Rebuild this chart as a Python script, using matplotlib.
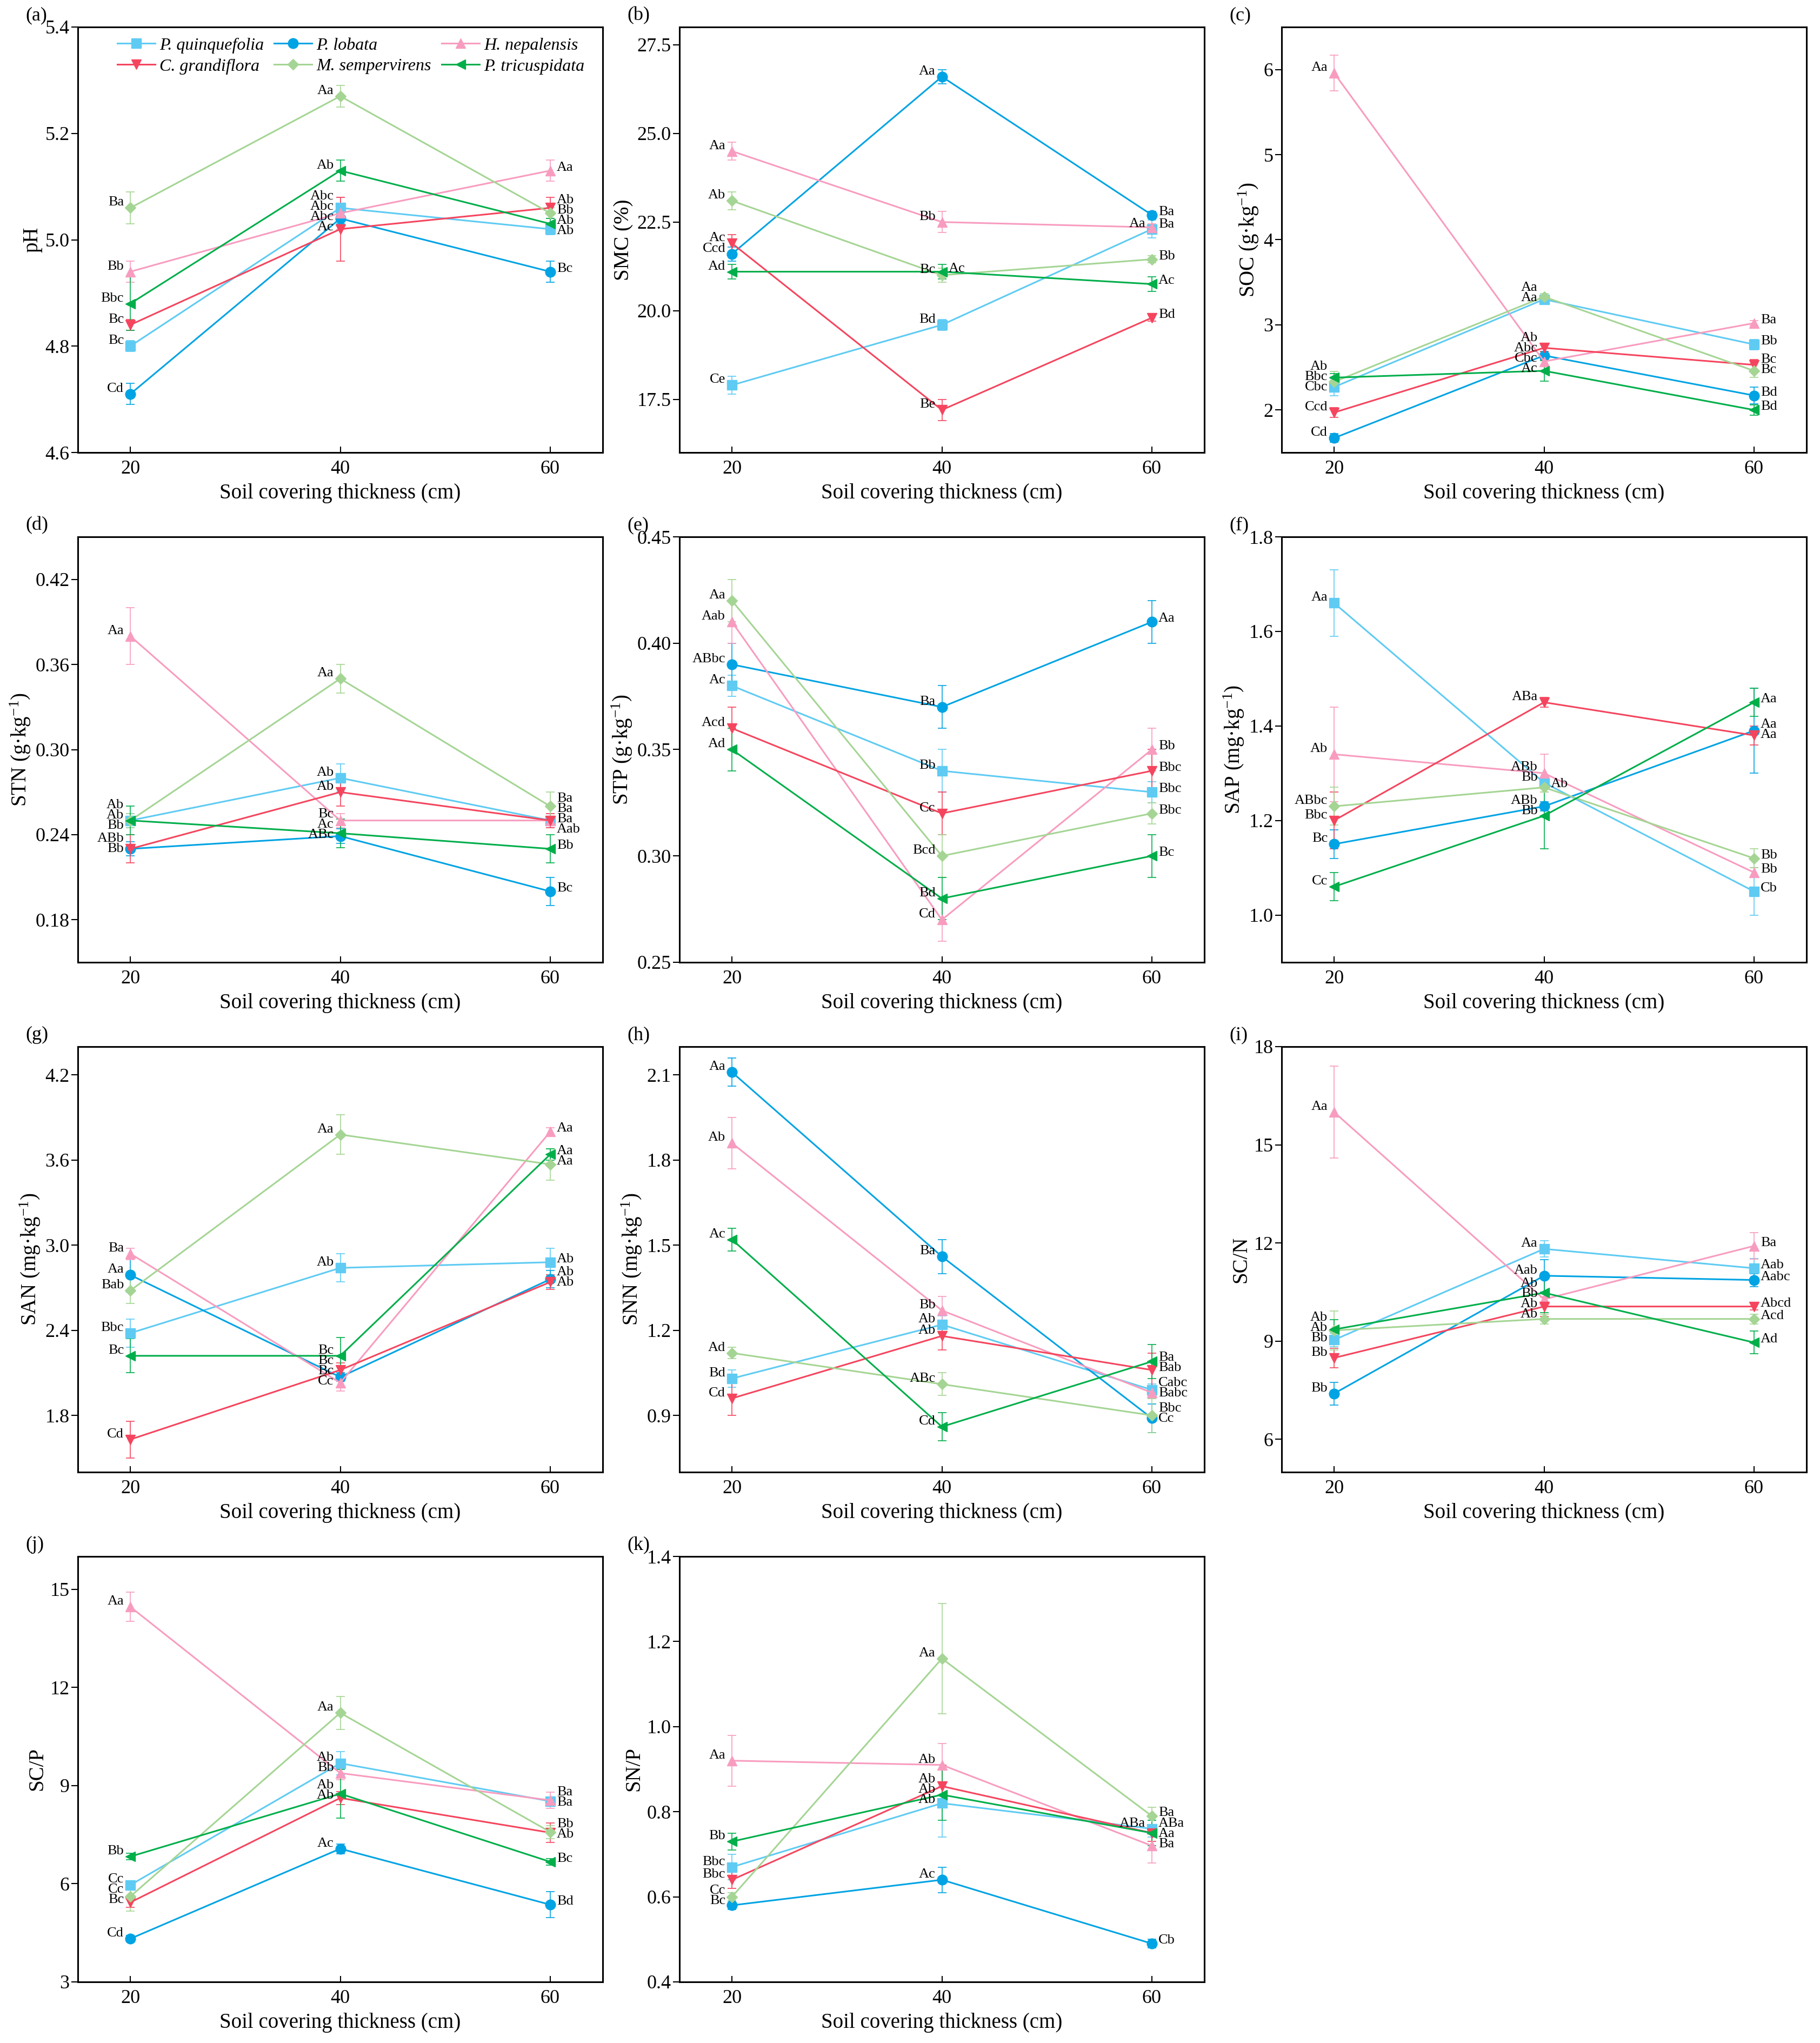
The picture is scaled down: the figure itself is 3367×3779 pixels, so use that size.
import numpy as np
import matplotlib
matplotlib.use('Agg')
import matplotlib.pyplot as plt
from matplotlib.ticker import FormatStrFormatter

plt.rcParams['font.family'] = ['Liberation Serif', 'DejaVu Serif']
plt.rcParams['mathtext.fontset'] = 'custom'
plt.rcParams['mathtext.rm'] = 'Liberation Serif'
plt.rcParams['mathtext.it'] = 'Liberation Serif:italic'

thickness = [20, 40, 60]
species = ['P. quinquefolia', 'P. lobata', 'H. nepalensis',
           'C. grandiflora', 'M. sempervirens', 'P. tricuspidata']
colors = ['#5FCBF3', '#00A3E3', '#F89CBF', '#F5455E', '#A5D594', '#00AE4A']
markers = ['s', 'o', '^', 'v', 'D', '<']

# ---- values (rows = species in the order above, cols = 20/40/60 cm) ----
ph_mean = [[4.80, 5.06, 5.02], [4.71, 5.04, 4.94], [4.94, 5.05, 5.13],
           [4.84, 5.02, 5.06], [5.06, 5.27, 5.05], [4.88, 5.13, 5.03]]
ph_err = [[0.01, 0.02, 0.01], [0.02, 0.01, 0.02], [0.02, 0.03, 0.02],
          [0.01, 0.06, 0.02], [0.03, 0.02, 0.01], [0.05, 0.02, 0.01]]
ph_lab = [['Bc', 'Abc', 'Ab'], ['Cd', 'Abc', 'Bc'], ['Bb', 'Abc', 'Aa'],
          ['Bc', 'Ac', 'Ab'], ['Ba', 'Aa', 'Bb'], ['Bbc', 'Ab', 'Ab']]

smc_mean = [[17.9, 19.6, 22.3], [21.6, 26.6, 22.7], [24.5, 22.5, 22.35],
            [21.9, 17.2, 19.8], [23.1, 21.0, 21.45], [21.1, 21.1, 20.75]]
smc_err = [[0.25, 0.15, 0.25], [0.2, 0.2, 0.1], [0.25, 0.3, 0.1],
           [0.25, 0.3, 0.1], [0.25, 0.2, 0.1], [0.2, 0.2, 0.2]]
smc_lab = [['Ce', 'Bd', 'Aa'], ['Ccd', 'Aa', 'Ba'], ['Aa', 'Bb', 'Ba'],
           ['Ac', 'Be', 'Bd'], ['Ab', 'Bc', 'Bb'], ['Ad', 'Ac', 'Ac']]

soc_mean = [[2.27, 3.30, 2.77], [1.67, 2.64, 2.17], [5.96, 2.57, 3.02],
            [1.97, 2.73, 2.53], [2.33, 3.33, 2.46], [2.38, 2.46, 2.00]]
soc_err = [[0.10, 0.05, 0.06], [0.05, 0.05, 0.10], [0.21, 0.05, 0.03],
           [0.06, 0.04, 0.06], [0.12, 0.04, 0.08], [0.05, 0.12, 0.06]]
soc_lab = [['Cbc', 'Aa', 'Bb'], ['Cd', 'Abc', 'Bd'], ['Aa', 'Cbc', 'Ba'],
           ['Ccd', 'Ab', 'Bc'], ['Bbc', 'Aa', 'Bc'], ['Ab', 'Ac', 'Bd']]

stn_mean = [[0.25, 0.28, 0.25], [0.23, 0.239, 0.20], [0.38, 0.25, 0.25],
            [0.23, 0.27, 0.25], [0.25, 0.35, 0.26], [0.25, 0.241, 0.23]]
stn_err = [[0.005, 0.01, 0.005], [0.005, 0.005, 0.01], [0.02, 0.005, 0.005],
           [0.01, 0.01, 0.005], [0.005, 0.01, 0.01], [0.01, 0.01, 0.01]]
stn_lab = [['Ab', 'Ab', 'Ba'], ['ABb', 'ABc', 'Bc'], ['Aa', 'Bc', 'Ba'],
           ['Bb', 'Ab', 'Aab'], ['Ab', 'Aa', 'Ba'], ['Bb', 'Ac', 'Bb']]

stp_mean = [[0.38, 0.34, 0.33], [0.39, 0.37, 0.41], [0.41, 0.27, 0.35],
            [0.36, 0.32, 0.34], [0.42, 0.30, 0.32], [0.35, 0.28, 0.30]]
stp_err = [[0.005, 0.01, 0.005], [0.01, 0.01, 0.01], [0.01, 0.01, 0.01],
           [0.01, 0.01, 0.01], [0.01, 0.01, 0.005], [0.01, 0.01, 0.01]]
stp_lab = [['Ac', 'Bb', 'Bbc'], ['ABbc', 'Ba', 'Aa'], ['Aab', 'Cd', 'Bb'],
           ['Acd', 'Cc', 'Bbc'], ['Aa', 'Bcd', 'Bbc'], ['Ad', 'Bd', 'Bc']]

sap_mean = [[1.66, 1.28, 1.05], [1.15, 1.23, 1.39], [1.34, 1.30, 1.09],
            [1.20, 1.45, 1.38], [1.23, 1.27, 1.12], [1.06, 1.21, 1.45]]
sap_err = [[0.07, 0.01, 0.05], [0.03, 0.01, 0.09], [0.10, 0.04, 0.01],
           [0.06, 0.01, 0.02], [0.04, 0.01, 0.02], [0.03, 0.07, 0.03]]
sap_lab = [['Aa', 'Bb', 'Cb'], ['Bc', 'ABb', 'Aa'], ['Ab', 'ABb', 'Bb'],
           ['Bbc', 'ABa', 'Aa'], ['ABbc', 'Ab', 'Bb'], ['Cc', 'Bb', 'Aa']]

san_mean = [[2.38, 2.84, 2.88], [2.79, 2.07, 2.76], [2.94, 2.03, 3.80],
            [1.63, 2.12, 2.74], [2.68, 3.78, 3.57], [2.22, 2.22, 3.64]]
san_err = [[0.10, 0.10, 0.10], [0.12, 0.03, 0.06], [0.04, 0.06, 0.03],
           [0.13, 0.05, 0.05], [0.09, 0.14, 0.11], [0.12, 0.13, 0.04]]
san_lab = [['Bbc', 'Ab', 'Ab'], ['Aa', 'Bc', 'Ab'], ['Ba', 'Cc', 'Aa'],
           ['Cd', 'Bc', 'Ab'], ['Bab', 'Aa', 'Aa'], ['Bc', 'Bc', 'Aa']]

snn_mean = [[1.03, 1.22, 0.99], [2.11, 1.46, 0.89], [1.86, 1.27, 0.98],
            [0.96, 1.18, 1.06], [1.12, 1.01, 0.90], [1.52, 0.86, 1.09]]
snn_err = [[0.03, 0.03, 0.02], [0.05, 0.06, 0.05], [0.09, 0.05, 0.02],
           [0.06, 0.05, 0.06], [0.02, 0.04, 0.06], [0.04, 0.05, 0.06]]
snn_lab = [['Bd', 'Ab', 'Cabc'], ['Aa', 'Ba', 'Cc'], ['Ab', 'Bb', 'Babc'],
           ['Cd', 'Ab', 'Bab'], ['Ad', 'ABc', 'Bbc'], ['Ac', 'Cd', 'Ba']]

scn_mean = [[9.04, 11.82, 11.23], [7.40, 11.0, 10.87], [16.0, 10.28, 11.91],
            [8.49, 10.06, 10.06], [9.33, 9.68, 9.68], [9.36, 10.48, 8.96]]
scn_err = [[0.2, 0.25, 0.3], [0.35, 0.5, 0.2], [1.4, 0.2, 0.4],
           [0.3, 0.3, 0.1], [0.6, 0.15, 0.15], [0.3, 0.6, 0.35]]
scn_lab = [['Bb', 'Aa', 'Aab'], ['Bb', 'Aab', 'Aabc'], ['Aa', 'Bb', 'Ba'],
           ['Bb', 'Ab', 'Abcd'], ['Ab', 'Ab', 'Acd'], ['Ab', 'Ab', 'Ad']]

scp_mean = [[5.96, 9.68, 8.52], [4.32, 7.07, 5.36], [14.46, 9.38, 8.55],
            [5.43, 8.62, 7.56], [5.61, 11.22, 7.58], [6.83, 8.75, 6.67]]
scp_err = [[0.1, 0.35, 0.1], [0.1, 0.15, 0.4], [0.45, 0.2, 0.25],
           [0.15, 0.2, 0.3], [0.45, 0.5, 0.2], [0.1, 0.75, 0.1]]
scp_lab = [['Cc', 'Ab', 'Ba'], ['Cd', 'Ac', 'Bd'], ['Aa', 'Bb', 'Ba'],
           ['Bc', 'Ab', 'Ab'], ['Cc', 'Aa', 'Bb'], ['Bb', 'Ab', 'Bc']]

snp_mean = [[0.67, 0.82, 0.76], [0.58, 0.64, 0.49], [0.92, 0.91, 0.72],
            [0.64, 0.86, 0.75], [0.60, 1.16, 0.79], [0.73, 0.84, 0.75]]
snp_err = [[0.03, 0.08, 0.02], [0.01, 0.03, 0.01], [0.06, 0.05, 0.04],
           [0.02, 0.05, 0.02], [0.01, 0.13, 0.02], [0.02, 0.06, 0.03]]
snp_lab = [['Bbc', 'Ab', 'ABa'], ['Bc', 'Ac', 'Cb'], ['Aa', 'Ab', 'Ba'],
           ['Bbc', 'Ab', 'ABa'], ['Cc', 'Aa', 'Ba'], ['Bb', 'Ab', 'Aa']]

kg = r'$^{-1}$)'
panels = [
    ('(a)', 'pH', ph_mean, ph_err, ph_lab, (4.6, 5.4), np.arange(4.6, 5.41, 0.2), '%.1f'),
    ('(b)', 'SMC (%)', smc_mean, smc_err, smc_lab, (16, 28), np.arange(17.5, 27.6, 2.5), '%.1f'),
    ('(c)', 'SOC (g·kg' + kg, soc_mean, soc_err, soc_lab, (1.5, 6.5), np.arange(2, 6.1, 1), '%d'),
    ('(d)', 'STN (g·kg' + kg, stn_mean, stn_err, stn_lab, (0.15, 0.45), np.arange(0.18, 0.43, 0.06), '%.2f'),
    ('(e)', 'STP (g·kg' + kg, stp_mean, stp_err, stp_lab, (0.25, 0.45), np.arange(0.25, 0.451, 0.05), '%.2f'),
    ('(f)', 'SAP (mg·kg' + kg, sap_mean, sap_err, sap_lab, (0.9, 1.8), np.arange(1.0, 1.81, 0.2), '%.1f'),
    ('(g)', 'SAN (mg·kg' + kg, san_mean, san_err, san_lab, (1.4, 4.4), np.arange(1.8, 4.21, 0.6), '%.1f'),
    ('(h)', 'SNN (mg·kg' + kg, snn_mean, snn_err, snn_lab, (0.7, 2.2), np.arange(0.9, 2.11, 0.3), '%.1f'),
    ('(i)', 'SC/N', scn_mean, scn_err, scn_lab, (5, 18), np.arange(6, 18.1, 3), '%d'),
    ('(j)', 'SC/P', scp_mean, scp_err, scp_lab, (3, 16), np.arange(3, 15.1, 3), '%d'),
    ('(k)', 'SN/P', snp_mean, snp_err, snp_lab, (0.4, 1.4), np.arange(0.4, 1.41, 0.2), '%.1f'),
]
# letters drawn on the other side of the point: (panel, species, x index)
flip = {(1, 5, 1), (1, 0, 2), (5, 4, 1), (10, 0, 2)}

DPI = 100
W, H = 3367, 3779
fig = plt.figure(figsize=(W / DPI, H / DPI), dpi=DPI)
col_left = [144, 1257, 2371]
row_top = [50, 993, 1936, 2879]
aw, ah = 971, 787
pt = 72.0 / DPI


def put_letters(ax, items, side):
    # items: (x, y, text); spread overlapping labels vertically
    if not items:
        return
    base = 10 if side == 'left' else 6
    ys = []
    for x, y, t in items:
        ys.append(ax.transData.transform((x, y))[1] + base)
    order = np.argsort(-np.array(ys), kind='stable')
    pos = np.array(ys)[order].astype(float)
    gap = 19.0
    for _ in range(200):
        moved = False
        for i in range(1, len(pos)):
            d = pos[i - 1] - pos[i]
            if d < gap:
                s = (gap - d) / 2
                pos[i - 1] += s
                pos[i] -= s
                moved = True
        if not moved:
            break
    for k, idx in enumerate(order):
        x, y, t = items[idx]
        y0 = ax.transData.transform((x, y))[1]
        dx = -12 if side == 'left' else 12
        ax.annotate(t, (x, y), xytext=(dx * pt, (pos[k] - y0) * pt),
                    textcoords='offset points', fontsize=19,
                    ha='right' if side == 'left' else 'left', va='center')


for p, (tag, ylab, mean, err, lab, ylim, ticks, fmt) in enumerate(panels):
    r, c = divmod(p, 3)
    ax = fig.add_axes([col_left[c] / W, 1 - (row_top[r] + ah) / H, aw / W, ah / H])
    ax.set_xlim(15, 65)
    ax.set_ylim(*ylim)
    for s in range(6):
        ax.errorbar(thickness, mean[s], yerr=err[s], fmt='none', ecolor=colors[s],
                    elinewidth=1.2, capsize=6, capthick=1.2, zorder=2)
        ms = 10.5 if markers[s] == 'D' else 13.5
        ax.plot(thickness, mean[s], color=colors[s], marker=markers[s], ms=ms,
                lw=2.2, label=species[s], zorder=3)
    ax.set_xticks(thickness)
    ax.set_yticks(ticks)
    ax.yaxis.set_major_formatter(FormatStrFormatter(fmt))
    ax.tick_params(axis='x', direction='in', length=8, width=1.5, labelsize=26, pad=10)
    ax.tick_params(axis='y', direction='out', length=9, width=1.5, labelsize=26, pad=2)
    for sp in ax.spines.values():
        sp.set_linewidth(2.2)
    ax.set_xlabel('Soil covering thickness (cm)', fontsize=28, labelpad=7)
    ax.set_ylabel(ylab, fontsize=28, labelpad=4)
    ax.text(-0.1, 1.027, tag, transform=ax.transAxes, fontsize=26, ha='left', va='center')

    for xi, x in enumerate(thickness):
        left, right = [], []
        for s in range(6):
            side = 'right' if xi == 2 else 'left'
            if (p, s, xi) in flip:
                side = 'left' if side == 'right' else 'right'
            (left if side == 'left' else right).append((x, mean[s][xi], lab[s][xi]))
        put_letters(ax, left, 'left')
        put_letters(ax, right, 'right')

    if p == 0:
        h, l = ax.get_legend_handles_labels()
        order = [0, 3, 1, 4, 2, 5]
        ax.legend([h[i] for i in order], [l[i] for i in order], ncol=3, frameon=False,
                  loc='upper left', bbox_to_anchor=(0.055, 1.0), borderaxespad=0,
                  borderpad=0.6, handlelength=2.2, handletextpad=0.25,
                  columnspacing=0.6, labelspacing=0.3,
                  prop={'style': 'italic', 'size': 23})

fig.savefig('out.png', dpi=DPI)
